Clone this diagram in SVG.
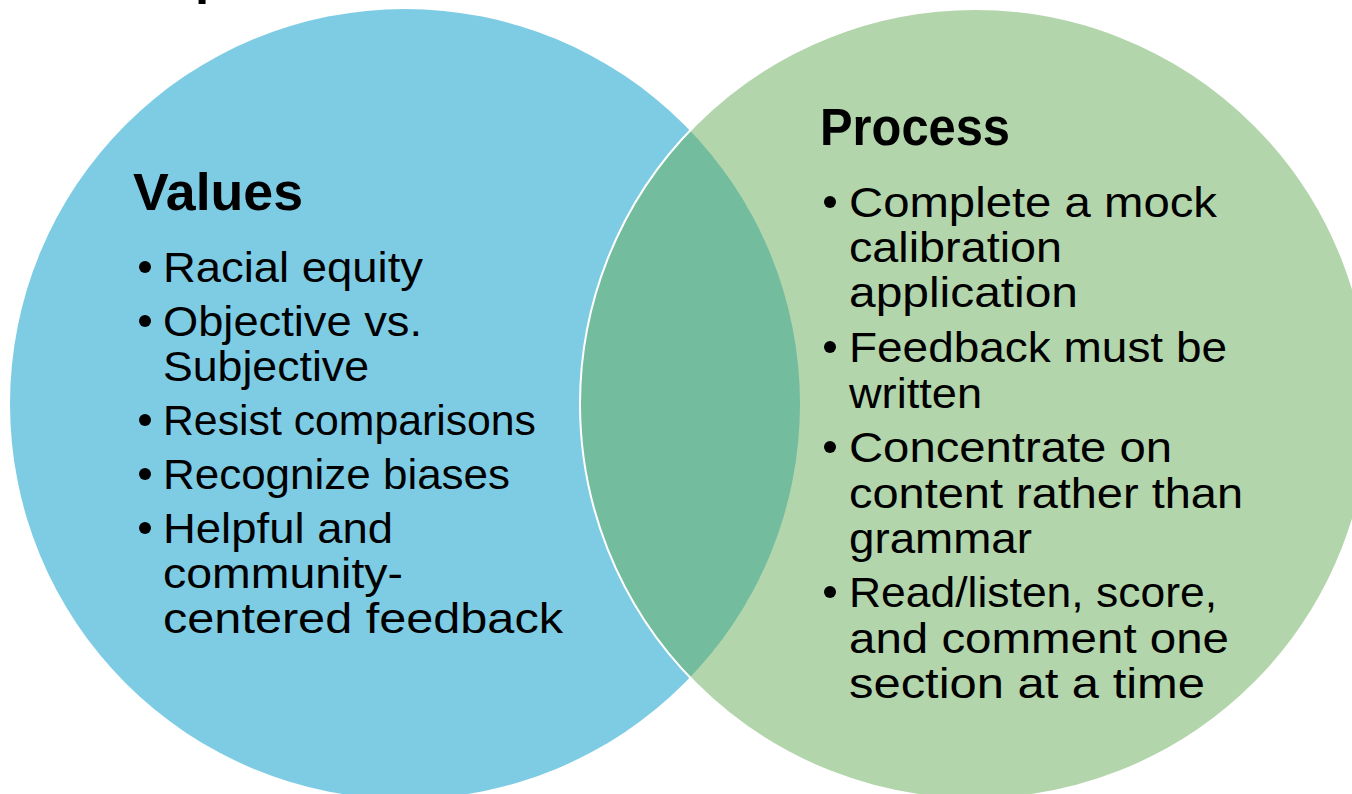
<svg xmlns="http://www.w3.org/2000/svg" width="1352" height="794" viewBox="0 0 1352 794">
<style>
.t{font-family:"Liberation Sans",Arial,sans-serif;font-size:42px;fill:#000}
.h{font-family:"Liberation Sans",Arial,sans-serif;font-size:51px;font-weight:bold;fill:#000}
.b{fill:#000}
</style>
<rect width="1352" height="794" fill="#fff"/>
<text class="h" x="195" y="-7" font-size="48">p</text>
<g id="values">
<circle cx="405" cy="404" r="395" fill="#7ECCE4"/>
</g>
<g id="process">
<circle cx="975" cy="404" r="395" fill="#6AAC5A" fill-opacity="0.51" stroke="#fff" stroke-width="2"/>
</g>
<g id="values-text">
<text class="h" x="133" y="210" textLength="170" lengthAdjust="spacingAndGlyphs">Values</text>
<circle class="b" cx="145" cy="267" r="6"/>
<text class="t" x="163" y="282" textLength="260" lengthAdjust="spacingAndGlyphs">Racial equity</text>
<circle class="b" cx="145" cy="321" r="6"/>
<text class="t" x="163" y="336" textLength="259" lengthAdjust="spacingAndGlyphs">Objective vs.</text>
<text class="t" x="163" y="381" textLength="206" lengthAdjust="spacingAndGlyphs">Subjective</text>
<circle class="b" cx="145" cy="420" r="6"/>
<text class="t" x="163" y="435" textLength="373" lengthAdjust="spacingAndGlyphs">Resist comparisons</text>
<circle class="b" cx="145" cy="474" r="6"/>
<text class="t" x="163" y="489" textLength="347" lengthAdjust="spacingAndGlyphs">Recognize biases</text>
<circle class="b" cx="145" cy="528" r="6"/>
<text class="t" x="163" y="543" textLength="230" lengthAdjust="spacingAndGlyphs">Helpful and</text>
<text class="t" x="163" y="588" textLength="240" lengthAdjust="spacingAndGlyphs">community-</text>
<text class="t" x="163" y="633" textLength="400" lengthAdjust="spacingAndGlyphs">centered feedback</text>
</g>
<g id="process-text">
<text class="h" x="820" y="145" textLength="190" lengthAdjust="spacingAndGlyphs">Process</text>
<circle class="b" cx="830" cy="202" r="6"/>
<text class="t" x="849" y="217" textLength="368" lengthAdjust="spacingAndGlyphs">Complete a mock</text>
<text class="t" x="849" y="262" textLength="213" lengthAdjust="spacingAndGlyphs">calibration</text>
<text class="t" x="849" y="307" textLength="229" lengthAdjust="spacingAndGlyphs">application</text>
<circle class="b" cx="830" cy="347" r="6"/>
<text class="t" x="849" y="362" textLength="378" lengthAdjust="spacingAndGlyphs">Feedback must be</text>
<text class="t" x="849" y="408" textLength="133" lengthAdjust="spacingAndGlyphs">written</text>
<circle class="b" cx="830" cy="447" r="6"/>
<text class="t" x="849" y="462" textLength="323" lengthAdjust="spacingAndGlyphs">Concentrate on</text>
<text class="t" x="849" y="508" textLength="394" lengthAdjust="spacingAndGlyphs">content rather than</text>
<text class="t" x="849" y="553" textLength="183" lengthAdjust="spacingAndGlyphs">grammar</text>
<circle class="b" cx="830" cy="592" r="6"/>
<text class="t" x="849" y="607" textLength="368" lengthAdjust="spacingAndGlyphs">Read/listen, score,</text>
<text class="t" x="849" y="653" textLength="380" lengthAdjust="spacingAndGlyphs">and comment one</text>
<text class="t" x="849" y="698" textLength="356" lengthAdjust="spacingAndGlyphs">section at a time</text>
</g>
<g id="connectors"></g>
</svg>
